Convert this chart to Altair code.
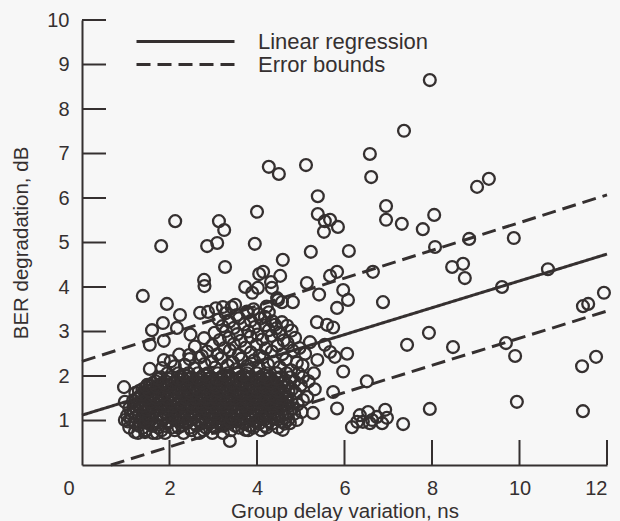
import altair as alt
import pandas as pd

# Sparse measurements (group delay variation in ns, BER degradation in dB)
outer_x = [7.95, 7.36, 6.58, 6.61, 9.03, 9.30, 6.95, 6.95, 7.31, 8.05, 7.79, 5.67, 5.85,
           8.85, 9.87, 8.07, 8.46, 8.71, 8.75, 6.65, 6.10, 9.60, 10.65, 11.93, 11.45, 11.57,
           6.88, 7.93, 7.43, 8.48, 9.69, 9.90, 11.75, 11.43, 7.95, 9.94, 11.45, 7.34,
           4.27, 4.50, 5.12, 5.39, 4.00, 5.39, 5.55, 5.53, 3.13, 3.25, 2.86, 3.09, 3.27,
           2.79, 2.13, 1.81, 1.39, 3.95, 5.23, 4.59, 4.14, 4.53, 4.32, 4.05, 5.14, 5.67,
           5.83, 5.97, 6.08, 5.83, 5.42]
outer_y = [8.65, 7.51, 6.99, 6.47, 6.25, 6.43, 5.82, 5.51, 5.42, 5.62, 5.30, 5.51, 5.35,
           5.08, 5.10, 4.90, 4.45, 4.52, 4.20, 4.34, 4.81, 4.00, 4.40, 3.87, 3.57, 3.62,
           3.66, 2.97, 2.70, 2.65, 2.74, 2.45, 2.43, 2.22, 1.26, 1.42, 1.21, 0.92,
           6.70, 6.54, 6.74, 6.04, 5.69, 5.64, 5.48, 5.24, 5.48, 5.28, 4.92, 4.99, 4.45,
           4.16, 5.48, 4.92, 3.80, 4.97, 4.79, 4.61, 4.34, 4.25, 4.11, 4.29, 4.09, 4.25,
           4.34, 3.93, 3.71, 3.53, 3.83]

# Points around the edges of the main cloud
edge_x = [5.37, 5.60, 5.74, 5.21, 5.55, 5.67, 5.78, 6.06, 5.97, 6.51, 5.74, 5.83, 5.05,
          5.28, 4.91, 4.75, 4.59, 6.17, 6.35, 6.54, 6.63, 6.74, 6.93, 6.97, 6.86, 6.58,
          6.42, 6.29, 4.48, 4.82, 3.73, 4.02, 4.34, 4.46, 4.57, 3.89, 2.80, 3.22, 3.50,
          3.79, 4.18, 4.41, 4.57, 2.88, 1.94, 2.24, 2.70, 1.85, 2.17, 1.60, 1.87, 1.55,
          2.79, 2.45, 1.87, 2.74, 1.55, 1.83, 2.35, 0.96, 0.98, 0.98, 1.21, 1.49, 1.44,
          1.71, 3.38, 3.73]
edge_y = [3.21, 3.15, 3.09, 2.76, 2.70, 2.54, 2.43, 2.50, 2.10, 1.88, 1.64, 1.27, 1.46,
          1.17, 1.01, 0.94, 0.79, 0.85, 1.12, 1.19, 1.01, 1.08, 1.24, 1.06, 0.94, 0.94,
          0.97, 0.97, 3.71, 3.66, 4.00, 3.98, 3.98, 3.75, 3.66, 3.87, 4.02, 3.55, 3.60,
          3.42, 3.33, 3.15, 3.21, 3.44, 3.62, 3.37, 3.42, 3.19, 3.08, 3.03, 2.79, 2.70,
          2.85, 2.47, 2.36, 2.45, 2.16, 2.18, 2.25, 1.75, 1.42, 1.01, 0.74, 1.80, 0.74,
          0.72, 0.54, 0.79]

# Upper half of the cloud (BER roughly 2.1 to 3.6 dB)
upper_x = [2.12, 2.57, 2.80, 3.04, 3.33, 3.52, 3.78, 4.05, 4.25, 4.52, 4.78, 5.04,
           2.03, 2.46, 2.68, 2.97, 3.18, 3.45, 3.64, 3.93, 4.14, 4.38, 4.66, 4.91, 5.38,
           2.22, 2.86, 3.10, 3.38, 3.58, 3.86, 4.06, 4.34, 4.58, 4.82, 5.10,
           2.58, 2.98, 3.26, 3.47, 3.74, 3.99, 4.20, 4.47, 4.70, 4.97,
           3.15, 3.36, 3.63, 3.85, 4.12, 4.33, 4.61, 4.87,
           2.48, 3.03, 3.29, 3.55, 3.80, 4.01, 4.27, 4.51, 4.79,
           3.21, 3.47, 3.71, 3.95, 4.19, 4.44, 4.69,
           3.12, 3.37, 3.59, 3.86, 4.08, 4.35,
           3.28, 3.54, 3.77, 4.04, 4.27,
           3.06, 3.42, 3.92, 4.22]
upper_y = [2.22, 2.18, 2.27, 2.19, 2.24, 2.15, 2.23, 2.17, 2.26, 2.20, 2.13, 2.24,
           2.33, 2.38, 2.41, 2.33, 2.40, 2.31, 2.39, 2.35, 2.42, 2.32, 2.37, 2.30, 2.36,
           2.48, 2.55, 2.49, 2.58, 2.47, 2.53, 2.46, 2.55, 2.49, 2.57, 2.50,
           2.66, 2.69, 2.63, 2.72, 2.64, 2.70, 2.62, 2.68, 2.74, 2.63,
           2.81, 2.86, 2.79, 2.88, 2.82, 2.90, 2.80, 2.86,
           2.93, 2.97, 3.01, 2.94, 3.00, 2.93, 3.03, 2.96, 3.02,
           3.12, 3.08, 3.16, 3.10, 3.14, 3.07, 3.13,
           3.27, 3.22, 3.30, 3.24, 3.29, 3.23,
           3.41, 3.37, 3.45, 3.39, 3.43,
           3.52, 3.55, 3.50, 3.56]

# Dense lower core of the cloud, row by row: (BER degradation, [group delays])
core_rows = [
    (0.72, [1.28, 1.62, 1.90, 2.32, 2.68, 2.98, 3.22]),
    (0.84, [1.08, 1.40, 1.74, 2.05, 2.20, 2.47, 2.83, 3.05, 3.58, 3.92, 4.22, 4.48]),
    (0.93, [1.22, 1.52, 1.66, 1.95, 2.38, 2.57, 2.74, 2.92, 3.16, 3.33, 3.71, 4.05, 4.35, 4.63]),
    (1.02, [1.12, 1.36, 1.58, 1.83, 2.12, 2.27, 2.49, 2.66, 3.02, 3.24, 3.46, 3.63, 3.86, 4.17, 4.48, 4.72]),
    (1.11, [1.03, 1.30, 1.46, 1.71, 1.97, 2.19, 2.41, 2.85, 3.12, 3.36, 3.55, 3.79, 3.98, 4.29, 4.58]),
    (1.19, [1.18, 1.39, 1.62, 1.88, 2.06, 2.31, 2.56, 2.77, 2.97, 3.25, 3.48, 3.68, 3.93, 4.11, 4.40, 4.70, 5.02]),
    (1.28, [1.08, 1.32, 1.53, 1.79, 2.00, 2.23, 2.46, 2.68, 2.90, 3.14, 3.38, 3.60, 3.84, 4.05, 4.26, 4.52, 4.82]),
    (1.36, [1.25, 1.47, 1.70, 1.93, 2.15, 2.37, 2.60, 2.82, 3.05, 3.30, 3.52, 3.74, 3.97, 4.19, 4.43, 4.64, 4.93]),
    (1.45, [1.17, 1.40, 1.62, 1.84, 2.08, 2.29, 2.52, 2.74, 2.97, 3.21, 3.43, 3.66, 3.88, 4.10, 4.34, 4.57, 4.78]),
    (1.53, [1.30, 1.55, 1.77, 2.01, 2.21, 2.44, 2.67, 2.89, 3.12, 3.35, 3.58, 3.80, 4.02, 4.25, 4.48, 4.70, 5.15]),
    (1.62, [1.22, 1.46, 1.69, 1.92, 2.14, 2.36, 2.58, 2.81, 3.04, 3.27, 3.49, 3.71, 3.94, 4.16, 4.39, 4.62, 4.88]),
    (1.70, [1.38, 1.61, 1.85, 2.07, 2.29, 2.51, 2.73, 2.96, 3.19, 3.41, 3.63, 3.86, 4.08, 4.31, 4.54, 4.80, 5.32]),
    (1.79, [1.55, 1.78, 1.99, 2.21, 2.43, 2.66, 2.88, 3.11, 3.33, 3.56, 3.78, 4.00, 4.23, 4.46, 4.69, 5.00]),
    (1.88, [1.68, 1.91, 2.13, 2.36, 2.58, 2.80, 3.03, 3.26, 3.48, 3.70, 3.93, 4.15, 4.38, 4.61, 4.86, 5.18]),
    (1.97, [1.80, 2.05, 2.28, 2.50, 2.72, 2.95, 3.18, 3.40, 3.62, 3.85, 4.07, 4.30, 4.53, 4.76, 5.05]),
    (2.06, [1.95, 2.20, 2.43, 2.65, 2.87, 3.10, 3.33, 3.55, 3.77, 4.00, 4.22, 4.45, 4.68, 4.95, 5.30]),
]

# Further points packed in between the core rows, where the cloud is thickest
packed_rows = [
    (0.78, [1.45, 1.82, 2.12, 2.50, 2.78, 3.40, 3.80, 4.10]),
    (0.88, [1.30, 1.60, 1.90, 2.28, 2.62, 2.96, 3.24, 3.50, 3.83, 4.18]),
    (0.98, [1.05, 1.44, 1.72, 2.00, 2.20, 2.42, 2.82, 3.12, 3.38, 3.56, 3.78, 3.98, 4.28, 4.56]),
    (1.07, [1.22, 1.52, 1.87, 2.06, 2.33, 2.58, 2.76, 2.95, 3.18, 3.42, 3.70, 3.90, 4.10, 4.40, 4.65]),
    (1.15, [1.12, 1.55, 1.80, 2.12, 2.50, 2.68, 2.90, 3.04, 3.30, 3.62, 3.86, 4.20, 4.48, 4.85]),
    (1.24, [1.25, 1.48, 1.72, 1.95, 2.16, 2.40, 2.63, 2.85, 3.08, 3.32, 3.56, 3.78, 4.00, 4.32, 4.60]),
    (1.32, [1.18, 1.40, 1.62, 1.86, 2.08, 2.30, 2.52, 2.75, 2.98, 3.22, 3.45, 3.68, 3.90, 4.12, 4.36, 4.72]),
    (1.41, [1.32, 1.55, 1.78, 2.02, 2.22, 2.45, 2.68, 2.90, 3.14, 3.36, 3.60, 3.82, 4.04, 4.27, 4.50]),
    (1.49, [1.24, 1.48, 1.70, 1.95, 2.15, 2.38, 2.60, 2.82, 3.05, 3.28, 3.50, 3.73, 3.96, 4.18, 4.42, 4.65]),
    (1.58, [1.36, 1.60, 1.84, 2.05, 2.28, 2.50, 2.73, 2.96, 3.20, 3.42, 3.64, 3.87, 4.09, 4.32, 4.56]),
    (1.66, [1.30, 1.53, 1.76, 2.00, 2.21, 2.44, 2.66, 2.88, 3.12, 3.34, 3.56, 3.79, 4.01, 4.24, 4.47, 4.72]),
    (1.75, [1.46, 1.70, 1.93, 2.15, 2.37, 2.59, 2.82, 3.05, 3.27, 3.49, 3.72, 3.94, 4.16, 4.39, 4.62]),
    (1.84, [1.62, 1.85, 2.07, 2.30, 2.52, 2.74, 2.97, 3.20, 3.42, 3.64, 3.86, 4.09, 4.32, 4.55]),
    (1.93, [1.74, 1.98, 2.20, 2.43, 2.65, 2.88, 3.10, 3.33, 3.55, 3.78, 4.00, 4.23, 4.46]),
    (2.02, [2.35, 2.80, 3.25, 3.70, 4.15]),
]

# Fitted regression line and error bounds (end points)
line_kind = ["Linear regression", "Linear regression", "Error bounds", "Error bounds",
             "Error bounds", "Error bounds"]
line_id = ["fit", "fit", "upper", "upper", "lower", "lower"]
line_x = [0.0, 12.0, 0.0, 12.0, 0.66, 12.0]
line_y = [1.12, 4.74, 2.33, 6.07, 0.0, 3.46]

x_ticks = [0, 2, 4, 6, 8, 10, 12]
y_ticks = [0, 1, 2, 3, 4, 5, 6, 7, 8, 9, 10]

rows = core_rows + packed_rows
row_x = [x for _, xs in rows for x in xs]
row_y = [y for y, xs in rows for _ in xs]

points = pd.DataFrame({
    "delay": outer_x + edge_x + upper_x + row_x,
    "ber": outer_y + edge_y + upper_y + row_y,
})
lines = pd.DataFrame({"kind": line_kind, "id": line_id, "delay": line_x, "ber": line_y})
x_tick_df = pd.DataFrame({"delay": [float(v) for v in x_ticks[1:]]})
y_tick_df = pd.DataFrame({"ber": [float(v) for v in y_ticks[1:]]})

INK = "#353030"
FONT = "Liberation Sans"
W, H = 525, 445

x_scale = alt.Scale(domain=[0, 12], nice=False, zero=False)
y_scale = alt.Scale(domain=[0, 10], nice=False, zero=False)

x_axis = alt.Axis(
    values=x_ticks, ticks=False, tickSize=0, grid=False, domainColor=INK, domainWidth=2,
    labelFont=FONT, labelFontSize=20, labelColor=INK, labelPadding=13,
    labelOffset={"condition": {"test": "datum.value === 0", "value": -19}, "value": 0},
    title="Group delay variation, ns", titleFont=FONT, titleFontSize=20.5,
    titleFontWeight="normal", titleColor=INK, titlePadding=3,
)
y_axis = alt.Axis(
    values=y_ticks, ticks=False, tickSize=0, grid=False, domainColor=INK, domainWidth=2,
    labelFont=FONT, labelFontSize=20, labelColor=INK, labelPadding=13,
    labelExpr="datum.value === 0 ? '' : datum.label",
    title="BER degradation, dB", titleFont=FONT, titleFontSize=20.5,
    titleFontWeight="normal", titleColor=INK, titlePadding=15,
)

line_layer = alt.Chart(lines).mark_line(color=INK, strokeWidth=3).encode(
    x=alt.X("delay:Q", scale=x_scale, axis=x_axis),
    y=alt.Y("ber:Q", scale=y_scale, axis=y_axis),
    detail="id:N",
    strokeDash=alt.StrokeDash(
        "kind:N",
        scale=alt.Scale(domain=["Linear regression", "Error bounds"], range=[[1, 0], [14, 7]]),
        legend=alt.Legend(
            title=None, orient="none", legendX=53, legendY=10, direction="vertical",
            symbolType="stroke", symbolSize=9604, symbolStrokeWidth=3,
            symbolStrokeColor=INK, clipHeight=23, rowPadding=0, padding=0,
            labelOffset=22, labelFont=FONT, labelFontSize=22, labelColor=INK,
            labelLimit=400,
        ),
    ),
)

point_layer = alt.Chart(points).mark_point(
    shape="circle", filled=False, size=140, strokeWidth=2.3, color=INK, opacity=1
).encode(
    x=alt.X("delay:Q", scale=x_scale),
    y=alt.Y("ber:Q", scale=y_scale),
)

# Inward-pointing tick marks along both axes
x_tick_layer = alt.Chart(x_tick_df).mark_rule(color=INK, strokeWidth=2).encode(
    x=alt.X("delay:Q", scale=x_scale),
    y=alt.value(H),
    y2=alt.value(H - 25),
)
y_tick_layer = alt.Chart(y_tick_df).mark_rule(color=INK, strokeWidth=2).encode(
    y=alt.Y("ber:Q", scale=y_scale),
    x=alt.value(0),
    x2=alt.value(24),
)

chart = (
    alt.layer(line_layer, point_layer, x_tick_layer, y_tick_layer)
    .properties(
        width=W, height=H,
        autosize=alt.AutoSizeParams(type="none"),
        padding={"left": 82, "top": 20, "right": 13, "bottom": 56},
        background="#f7f7f7",
    )
    .configure_view(stroke=None)
)

chart.save("out.html", embed_options={"renderer": "svg", "actions": False})
